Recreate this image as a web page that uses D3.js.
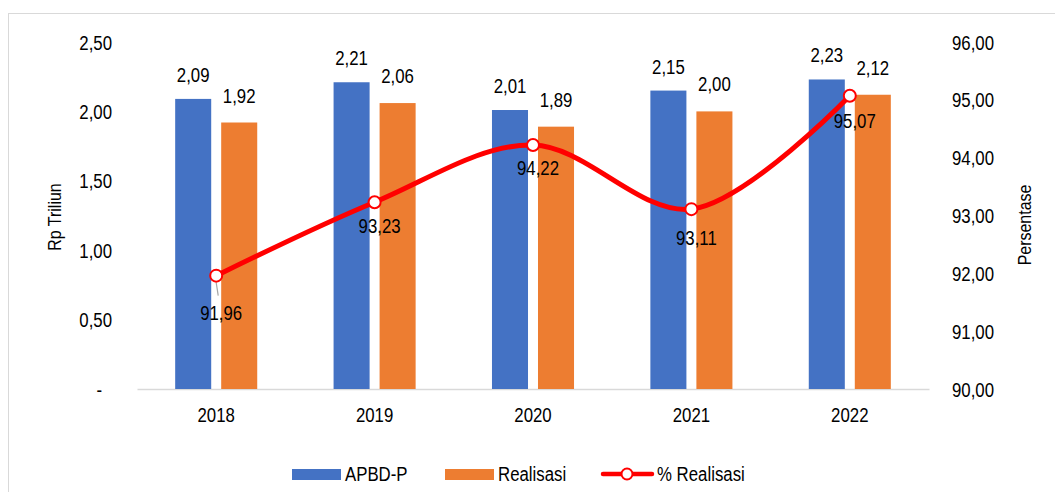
<!DOCTYPE html>
<html>
<head>
<meta charset="utf-8">
<script src="https://cdn.jsdelivr.net/npm/d3@7"></script>
<style>
	body { margin: 0; background: #fff; }
	svg text { font-family: "Liberation Sans", Arial, sans-serif; fill: #000; }
</style>
</head>
<body>
<svg id="chart" width="1055" height="492"></svg>
<script>

// Data

var years = ["2018", "2019", "2020", "2021", "2022"];
var apbdP = [2.09, 2.21, 2.01, 2.15, 2.23];
var realisasi = [1.92, 2.06, 1.89, 2.00, 2.12];
var persen = [91.96, 93.23, 94.22, 93.11, 95.07];

var leftTicks = [0, 0.5, 1, 1.5, 2, 2.5];
var rightTicks = [90, 91, 92, 93, 94, 95, 96];

var seriesNames = ["APBD-P", "Realisasi", "% Realisasi"];
var barColors = ["#4472C4", "#ED7D31"];
var lineColor = "#FF0000";

var fs = 20;

// Helpers

function comma(v, d) {
	return v.toFixed(d).replace(".", ",");
}

var svg = d3.select("#chart");

// frame
svg.append("rect")
	.attr("x", 8.5).attr("y", 13.5)
	.attr("width", 1100).attr("height", 600)
	.attr("fill", "none")
	.attr("stroke", "#D9D9D9");

// Scales

var x0 = d3.scaleBand().domain(years).range([137, 929]).paddingInner(0.482).paddingOuter(0.241);
var x1 = d3.scaleBand().domain([0, 1]).range([0, x0.bandwidth()]).paddingInner(0.217);
var yLeft = d3.scaleLinear().domain([0, 2.5]).range([389, 42]);
var yRight = d3.scaleLinear().domain([90, 96]).range([389, 42]);

// Axes

var leftAxis = svg.append("g")
	.attr("transform", "translate(112,0)")
	.call(d3.axisLeft(yLeft).tickValues(leftTicks).tickSize(0).tickPadding(0)
		.tickFormat(function(d) { return d === 0 ? "-" : comma(d, 2); }));
leftAxis.select(".domain").remove();
leftAxis.selectAll("text").attr("font-size", fs).attr("dy", "0.35em")
	.filter(function(d) { return d === 0; }).attr("dx", -10);

var rightAxis = svg.append("g")
	.attr("transform", "translate(952,0)")
	.call(d3.axisRight(yRight).tickValues(rightTicks).tickSize(0).tickPadding(0)
		.tickFormat(function(d) { return comma(d, 2); }));
rightAxis.select(".domain").remove();
rightAxis.selectAll("text").attr("font-size", fs).attr("dy", "0.35em");

var bottomAxis = svg.append("g")
	.attr("transform", "translate(0," + yLeft(0) + ")")
	.call(d3.axisBottom(x0).tickSize(0).tickPadding(19));
bottomAxis.select(".domain").attr("stroke", "#D9D9D9").attr("stroke-width", 1.5);
bottomAxis.selectAll("text").attr("font-size", fs);

// axis titles
svg.append("text")
	.attr("transform", "translate(61,217) rotate(-90)")
	.attr("text-anchor", "middle")
	.attr("font-size", 19)
	.text("Rp Triliun");

svg.append("text")
	.attr("transform", "translate(1031,225) rotate(-90)")
	.attr("text-anchor", "middle")
	.attr("font-size", 19)
	.text("Persentase");

// Bars

var barSeries = [apbdP, realisasi];

barSeries.forEach(function(values, s) {
	var g = svg.append("g");

	g.selectAll("rect")
		.data(values)
		.enter().append("rect")
		.attr("x", function(d, i) { return x0(years[i]) + x1(s); })
		.attr("y", function(d) { return yLeft(d); })
		.attr("width", x1.bandwidth())
		.attr("height", function(d) { return yLeft(0) - yLeft(d); })
		.attr("fill", barColors[s]);

	g.selectAll("text")
		.data(values)
		.enter().append("text")
		.attr("x", function(d, i) { return x0(years[i]) + x1(s) + x1.bandwidth() / 2; })
		.attr("y", function(d) { return yLeft(d) - (s === 0 ? 17 : 20); })
		.attr("text-anchor", "middle")
		.attr("font-size", fs)
		.text(function(d) { return comma(d, 2); });
});

// Line

var cx = function(i) { return x0(years[i]) + x0.bandwidth() / 2; };

var line = d3.line()
	.x(function(d, i) { return cx(i); })
	.y(function(d) { return yRight(d); })
	.curve(d3.curveCatmullRom.alpha(0.5));

svg.append("path")
	.datum(persen)
	.attr("d", line)
	.attr("fill", "none")
	.attr("stroke", lineColor)
	.attr("stroke-width", 5)
	.attr("stroke-linecap", "round");

// leader line for the first label
svg.append("line")
	.attr("x1", cx(0)).attr("y1", yRight(persen[0]) + 7)
	.attr("x2", cx(0) + 2).attr("y2", yRight(persen[0]) + 20)
	.attr("stroke", "#A6A6A6")
	.attr("stroke-width", 1.2);

svg.append("g").selectAll("circle")
	.data(persen)
	.enter().append("circle")
	.attr("cx", function(d, i) { return cx(i); })
	.attr("cy", function(d) { return yRight(d); })
	.attr("r", 6)
	.attr("fill", "#fff")
	.attr("stroke", lineColor)
	.attr("stroke-width", 2);

var labelDrop = [44, 31, 30, 36, 32];

svg.append("g").selectAll("text")
	.data(persen)
	.enter().append("text")
	.attr("x", function(d, i) { return cx(i) + 5; })
	.attr("y", function(d, i) { return yRight(d) + labelDrop[i]; })
	.attr("text-anchor", "middle")
	.attr("font-size", fs)
	.text(function(d) { return comma(d, 2); });

// Legend

var legend = svg.append("g").attr("transform", "translate(0,474)");

[0, 1].forEach(function(s) {
	var lx = s === 0 ? 292 : 445;
	legend.append("rect")
		.attr("x", lx).attr("y", -5)
		.attr("width", 49).attr("height", 11)
		.attr("fill", barColors[s]);
	legend.append("text")
		.attr("x", lx + 53).attr("y", 7)
		.attr("font-size", fs)
		.text(seriesNames[s]);
});

legend.append("line")
	.attr("x1", 603).attr("x2", 652)
	.attr("y1", 0).attr("y2", 0)
	.attr("stroke", lineColor)
	.attr("stroke-width", 4.5)
	.attr("stroke-linecap", "round");

legend.append("circle")
	.attr("cx", 627).attr("cy", 0).attr("r", 5.5)
	.attr("fill", "#fff")
	.attr("stroke", lineColor)
	.attr("stroke-width", 2);

legend.append("text")
	.attr("x", 657).attr("y", 7)
	.attr("font-size", fs)
	.text(seriesNames[2]);

// squeeze all text a bit, the original uses a narrow face
svg.selectAll("text").each(function() {
	var len = this.getComputedTextLength();
	d3.select(this)
		.attr("textLength", len * 0.84)
		.attr("lengthAdjust", "spacingAndGlyphs");
});

</script>
</body>
</html>
